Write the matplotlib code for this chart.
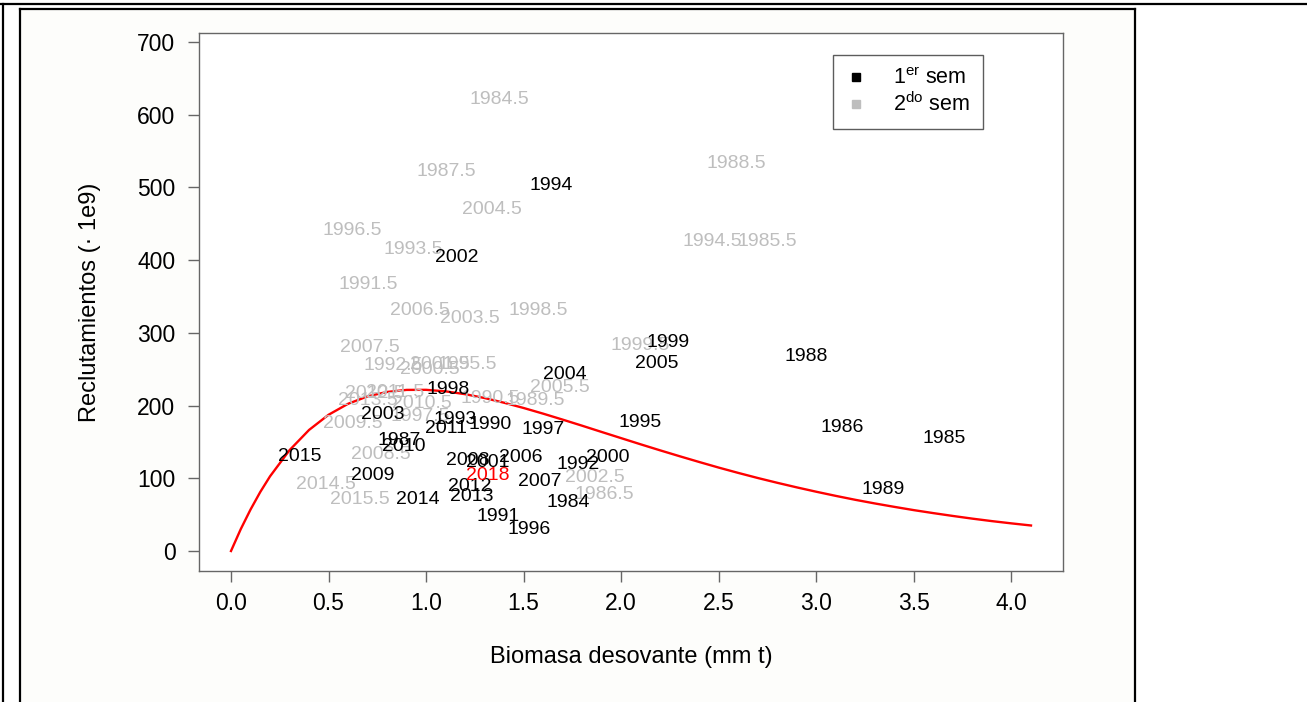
import matplotlib.pyplot as plt
from matplotlib.lines import Line2D
from matplotlib.patches import Rectangle

## First semester labels (black)
sem1_labels = ["1984", "1985", "1986", "1987", "1988", "1989", "1990", "1991",
               "1992", "1993", "1994", "1995", "1996", "1997", "1998", "1999",
               "2000", "2001", "2002", "2003", "2004", "2005", "2006", "2007",
               "2008", "2009", "2010", "2011", "2012", "2013", "2014", "2015"]
sem1_biomasa = [1.726, 3.657, 3.134, 0.860, 2.950, 3.344, 1.326, 1.367,
                1.777, 1.147, 1.639, 2.095, 1.526, 1.598, 1.111, 2.238,
                1.931, 1.316, 1.157, 0.778, 1.711, 2.182, 1.485, 1.583,
                1.214, 0.727, 0.886, 1.101, 1.224, 1.234, 0.958, 0.353]
sem1_reclut = [70, 157, 172, 155, 270, 88, 177, 50,
               122, 183, 505, 179, 32, 170, 225, 290,
               131, 124, 407, 190, 246, 260, 131, 98,
               127, 107, 147, 171, 92, 78, 73, 133]

## Second semester labels (grey)
sem2_labels = ["1984.5", "1985.5", "1986.5", "1987.5", "1988.5", "1989.5", "1990.5", "1991.5",
               "1992.5", "1993.5", "1994.5", "1995.5", "1996.5", "1997.5", "1998.5", "1999.5",
               "2000.5", "2001.5", "2002.5", "2003.5", "2004.5", "2005.5", "2006.5", "2007.5",
               "2008.5", "2009.5", "2010.5", "2011.5", "2012.5", "2013.5", "2014.5", "2015.5"]
sem2_biomasa = [1.373, 2.750, 1.915, 1.106, 2.592, 1.557, 1.327, 0.702,
                0.829, 0.932, 2.469, 1.209, 0.620, 0.968, 1.577, 2.095,
                1.019, 1.070, 1.864, 1.224, 1.337, 1.685, 0.968, 0.712,
                0.768, 0.625, 0.978, 0.840, 0.737, 0.700, 0.487, 0.661]
sem2_reclut = [624, 428, 80, 525, 536, 210, 212, 370,
               258, 418, 429, 259, 443, 188, 334, 286,
               253, 259, 104, 322, 472, 228, 334, 283,
               136, 178, 206, 221, 219, 210, 94, 73]

## Last year (red)
last_label = ["2018"]
last_biomasa = [1.316]
last_reclut = [107]

## Stock-recruitment curve
curve_biomasa = [0.0, 0.05, 0.1, 0.15, 0.2, 0.3, 0.4, 0.5, 0.6, 0.7, 0.8, 0.9, 1.0,
                 1.1, 1.2, 1.3, 1.4, 1.5, 1.6, 1.7, 1.8, 1.9, 2.0, 2.1, 2.2, 2.3,
                 2.4, 2.5, 2.6, 2.7, 2.8, 2.9, 3.0, 3.1, 3.2, 3.3, 3.4, 3.5, 3.6,
                 3.7, 3.8, 3.9, 4.0, 4.1]
curve_reclut = [0.0, 30.1, 57.0, 81.2, 102.7, 138.7, 166.5, 187.4, 202.5, 212.7, 218.8,
                221.6, 221.7, 219.6, 215.7, 210.4, 203.9, 196.7, 188.9, 180.7, 172.3,
                163.7, 155.2, 146.7, 138.4, 130.3, 122.4, 114.7, 107.4, 100.4, 93.8,
                87.5, 81.5, 75.8, 70.4, 65.4, 60.7, 56.2, 52.1, 48.2, 44.5, 41.1,
                38.0, 35.1]

xticks = [0.0, 0.5, 1.0, 1.5, 2.0, 2.5, 3.0, 3.5, 4.0]
yticks = [0, 100, 200, 300, 400, 500, 600, 700]

grey = "#bebebe"
box_col = "#666666"

plt.rcParams["font.family"] = ["Liberation Sans", "DejaVu Sans"]

W, H = 1307, 702
fig = plt.figure(figsize=(W / 100, H / 100), dpi=100)
fig.patch.set_facecolor("white")

## Page frame (table cell borders)
fig.add_artist(Rectangle((20 / W, 0), (1135 - 20) / W, 1 - 9 / H, transform=fig.transFigure,
                         facecolor="#fdfdfb", edgecolor="none", zorder=0))
frame = dict(color="black", lw=1.6, transform=fig.transFigure)
fig.add_artist(Line2D([3 / W, 3 / W], [0, 1 - 4 / H], **frame))
fig.add_artist(Line2D([0, 1], [1 - 4 / H, 1 - 4 / H], **frame))
fig.add_artist(Line2D([20 / W, 20 / W], [0, 1 - 9 / H], **frame))
fig.add_artist(Line2D([20 / W, 1135 / W], [1 - 9 / H, 1 - 9 / H], **frame))
fig.add_artist(Line2D([1135 / W, 1135 / W], [0, 1 - 9 / H], **frame))

ax = fig.add_axes([199 / W, 1 - 571 / H, (1063 - 199) / W, (571 - 33) / H])
ax.set_facecolor("white")

## Curve
ax.plot(curve_biomasa, curve_reclut, color="red", lw=1.7, zorder=2)

## Text labels
for lab, x, y in zip(sem2_labels, sem2_biomasa, sem2_reclut):
    ax.text(x, y, lab, color=grey, fontsize=14, ha="center", va="center_baseline", zorder=3)
for lab, x, y in zip(sem1_labels, sem1_biomasa, sem1_reclut):
    ax.text(x, y, lab, color="black", fontsize=14, ha="center", va="center_baseline", zorder=4)
for lab, x, y in zip(last_label, last_biomasa, last_reclut):
    ax.text(x, y, lab, color="red", fontsize=14, ha="center", va="center_baseline", zorder=5)

## Limits and axes (R style)
ax.set_xlim(-0.164, 4.264)
ax.set_ylim(-27.5, 712.5)
ax.set_xticks(xticks)
ax.set_xticklabels([f"{t:.1f}" for t in xticks])
ax.set_yticks(yticks)
ax.set_yticklabels([str(t) for t in yticks])
for sp in ax.spines.values():
    sp.set_color(box_col)
    sp.set_linewidth(1.0)
ax.tick_params(axis="both", direction="out", length=8, width=1.0, color=box_col,
               labelsize=16.5, labelcolor="black")
ax.tick_params(axis="y", pad=9)
ax.tick_params(axis="x", pad=7)

ax.set_xlabel("Biomasa desovante (mm t)", fontsize=17)
ax.set_ylabel("Reclutamientos (\u00b7 1e9)", fontsize=17)
ax.xaxis.set_label_coords(0.5, -0.14)
ax.yaxis.set_label_coords(-0.114, 0.5)

## Legend
handles = [Line2D([], [], marker="s", color="black", linestyle="none", markersize=6),
           Line2D([], [], marker="s", color=grey, linestyle="none", markersize=6)]
leg = ax.legend(handles, [r"$\mathregular{1^{er}}$ sem", r"$\mathregular{2^{do}}$ sem"],
                loc="upper right", bbox_to_anchor=(0.907, 0.959), fontsize=15.5,
                fancybox=False, frameon=True, edgecolor="#333333", borderpad=0.6,
                handletextpad=1.2, labelspacing=0.15, handlelength=1.0, borderaxespad=0)
leg.get_frame().set_linewidth(1.0)

plt.savefig("out.png", dpi=100)
